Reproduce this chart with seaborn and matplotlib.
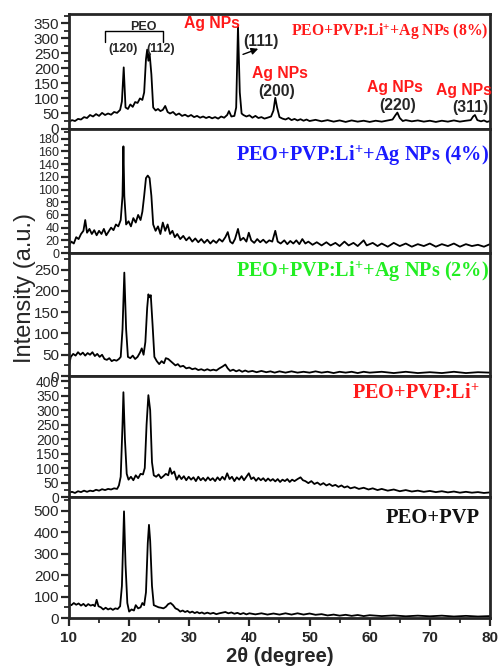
import numpy as np
import pandas as pd
import seaborn as sns
import matplotlib
matplotlib.use("Agg")
import matplotlib.pyplot as plt
from matplotlib.ticker import MultipleLocator

# ---------------- data ----------------
x_ag8 = [10, 10.5, 11, 11.5, 12, 12.5, 13, 13.5, 14, 14.5, 15, 15.5, 16, 16.5, 17, 17.5, 18, 18.5, 18.8, 19.1,
         19.4, 19.8, 20.2, 20.6, 21, 21.4, 21.8, 22.2, 22.5, 22.8, 23.0, 23.2, 23.4, 23.7, 24.0, 24.4, 24.8, 25.2,
         25.6, 26.0, 26.4, 26.8, 27.3, 27.8, 28.3, 28.8, 29.3, 29.8, 30.3, 30.8, 31.3, 31.8, 32.3, 32.8, 33.3, 33.8,
         34.3, 34.8, 35.3, 35.8, 36.3, 36.6, 37.0, 37.5, 37.8, 38.1, 38.4, 38.7, 39.0, 39.5, 40.0, 40.5, 41.0, 41.5,
         42.0, 42.5, 43.0, 43.6, 44.0, 44.3, 44.6, 45.0, 45.5, 46, 46.5, 47, 47.5, 48, 48.5, 49, 49.5, 50, 51, 52,
         53, 54, 55, 56, 57, 58, 59, 60, 61, 62, 63, 63.8, 64.3, 64.6, 65.0, 65.5, 66, 67, 68, 69, 70, 71, 72, 73,
         74, 75, 76, 76.8, 77.2, 77.5, 77.9, 78.5, 79, 79.5, 80]
y_ag8 = [22, 28, 25, 32, 30, 38, 35, 45, 40, 48, 42, 52, 45, 50, 46, 55, 52, 62, 90, 203,
         70, 65, 80, 72, 88, 85, 100, 95, 120, 230, 262, 225, 250, 180, 70, 60, 65, 58,
         62, 75, 55, 50, 55, 45, 50, 42, 46, 40, 45, 38, 42, 36, 40, 35, 39, 34,
         38, 33, 40, 36, 45, 58, 40, 42, 70, 340, 120, 50, 45, 40, 44, 36, 42, 35,
         38, 33, 36, 40, 60, 102, 70, 38, 33, 30, 35, 28, 32, 27, 31, 26, 30, 25, 29, 24,
         28, 23, 27, 22, 27, 23, 26, 22, 26, 23, 27, 30, 45, 53, 35, 25, 28, 24, 27, 23, 26, 22, 26, 23,
         27, 23, 26, 28, 40, 45, 28, 24, 27, 22, 25]

x_ag4 = [10, 10.4, 10.8, 11.2, 11.6, 12.0, 12.4, 12.7, 13.0, 13.4, 13.8, 14.2, 14.6, 15.0, 15.4, 15.8, 16.2, 16.6,
         17.0, 17.4, 17.8, 18.2, 18.6, 18.9, 19.05, 19.2, 19.5, 19.9, 20.3, 20.7, 21.1, 21.5, 21.9, 22.2, 22.5,
         22.8, 23.1, 23.4, 23.7, 24.0, 24.4, 24.8, 25.2, 25.6, 26.0, 26.4, 26.8, 27.2, 27.6, 28.0, 28.5, 29.0,
         29.5, 30.0, 30.5, 31.0, 31.5, 32.0, 32.5, 33.0, 33.5, 34.0, 34.5, 35.0, 35.5, 36.0, 36.4, 36.8, 37.2,
         37.6, 38.1, 38.5, 39.0, 39.5, 39.9, 40.3, 40.8, 41.3, 41.8, 42.3, 42.8, 43.3, 43.8, 44.3, 44.7, 45.2,
         45.8, 46.3, 46.8, 47.3, 47.8, 48.3, 48.8, 49.3, 49.8, 50.5, 51.2, 52, 52.8, 53.5, 54.3, 55, 55.8, 56.5,
         57.3, 58, 59, 59.5, 60.5, 61.3, 62, 63, 64, 65, 66, 67, 68, 69, 70, 71, 72, 73, 74, 75, 76, 77, 78, 79, 80]
y_ag4 = [12, 18, 15, 25, 22, 30, 35, 52, 32, 38, 30, 36, 28, 35, 30, 38, 28, 34,
         40, 36, 45, 42, 52, 90, 168, 90, 45, 50, 42, 55, 48, 60, 52, 65, 90,
         118, 122, 118, 90, 45, 35, 42, 30, 48, 35, 45, 30, 35, 25, 30, 22, 27,
         20, 25, 18, 23, 17, 22, 16, 21, 15, 20, 16, 22, 18, 25, 33, 18, 15,
         22, 38, 20, 24, 18, 32, 20, 16, 22, 17, 21, 16, 20, 18, 35, 18, 15,
         20, 14, 19, 15, 20, 14, 22, 15, 18, 13, 17, 12, 17, 12, 16, 11, 18, 12,
         16, 11, 20, 12, 16, 11, 15, 10, 16, 11, 15, 10, 14, 11, 15, 10, 14, 11, 15, 10, 14, 11, 13, 10, 14]

x_ag2 = [10, 10.3, 10.7, 11.1, 11.5, 11.9, 12.3, 12.7, 13.1, 13.5, 13.9, 14.3, 14.7, 15.1, 15.5, 15.9, 16.3, 16.7,
         17.1, 17.5, 17.9, 18.3, 18.6, 18.9, 19.2, 19.5, 19.8, 20.2, 20.6, 21.0, 21.4, 21.8, 22.1, 22.4, 22.7,
         23.0, 23.2, 23.4, 23.6, 23.9, 24.2, 24.6, 25.0, 25.4, 25.8, 26.1, 26.5, 26.9, 27.3, 27.7, 28.1, 28.5,
         29.0, 29.5, 30.0, 30.5, 31.0, 31.5, 32.0, 32.5, 33.0, 33.5, 34.0, 34.5, 35.0, 35.5, 36.0, 36.4, 36.8,
         37.3, 37.8, 38.3, 38.8, 39.3, 39.8, 40.5, 41.2, 42, 42.8, 43.5, 44.2, 45, 46, 47, 48, 49, 50, 51, 52,
         53, 54, 55, 56, 57, 58, 59, 60, 62, 64, 66, 68, 70, 72, 74, 76, 78, 80]
y_ag2 = [25, 45, 52, 48, 56, 50, 55, 48, 54, 50, 56, 47, 52, 45, 50, 40, 38, 42,
         35, 38, 36, 40, 45, 110, 243, 110, 45, 42, 48, 40, 45, 55, 65, 50, 80,
         160, 192, 185, 190, 120, 45, 35, 28, 35, 30, 42, 40, 35, 30, 25, 28, 22,
         24, 18, 20, 16, 18, 14, 16, 13, 16, 13, 15, 13, 18, 22, 27, 18, 12,
         15, 11, 14, 10, 13, 10, 12, 9, 12, 9, 11, 8, 11, 8, 11, 8, 10, 8, 11, 8,
         10, 7, 10, 8, 10, 7, 10, 8, 10, 7, 10, 7, 9, 7, 10, 7, 9, 8]

x_li = [10, 10.5, 11, 11.5, 12, 12.5, 13, 13.5, 14, 14.5, 15, 15.5, 16, 16.5, 17, 17.5, 18, 18.3, 18.6, 18.9,
        19.05, 19.3, 19.6, 19.9, 20.3, 20.7, 21.1, 21.5, 21.9, 22.3, 22.6, 22.9, 23.2, 23.5, 23.8, 24.1, 24.5,
        24.9, 25.3, 25.7, 26.1, 26.5, 26.8, 27.1, 27.5, 27.9, 28.3, 28.7, 29.1, 29.5, 29.9, 30.3, 30.7, 31.1,
        31.5, 31.9, 32.3, 32.7, 33.1, 33.5, 33.9, 34.3, 34.7, 35.1, 35.5, 35.9, 36.3, 36.7, 37.1, 37.5, 37.9,
        38.3, 38.7, 39.1, 39.5, 39.9, 40.3, 40.7, 41.1, 41.5, 41.9, 42.3, 42.7, 43.1, 43.5, 43.9, 44.3, 44.7,
        45.1, 45.5, 45.9, 46.3, 46.7, 47.1, 47.5, 48, 48.5, 48.9, 49.3, 49.8, 50.3, 50.8, 51.3, 51.8, 52.3,
        52.8, 53.3, 53.8, 54.3, 54.8, 55.3, 55.8, 56.3, 56.8, 57.5, 58.2, 59, 59.8, 60.5, 61.3, 62, 63, 64,
        65, 66, 67, 68, 69, 70, 71, 72, 73, 74, 75, 76, 77, 78, 79, 80]
y_li = [15, 18, 14, 20, 17, 22, 18, 22, 20, 25, 22, 27, 24, 28, 26, 30, 28, 40, 70, 250,
        362, 200, 80, 60, 70, 58, 75, 65, 80, 78, 100, 250, 352, 300, 120, 75, 70,
        78, 65, 72, 80, 75, 100, 80, 88, 60, 75, 62, 72, 58, 70, 60, 68, 55,
        70, 58, 66, 56, 68, 58, 65, 55, 68, 58, 70, 60, 82, 62, 70, 55, 68,
        60, 72, 58, 70, 82, 62, 68, 56, 66, 58, 65, 55, 64, 56, 62, 54, 62,
        52, 60, 55, 62, 52, 60, 55, 62, 68, 58, 55, 48, 55, 45, 50, 42, 48,
        40, 45, 38, 42, 35, 40, 33, 37, 30, 34, 28, 32, 26, 30, 24, 28, 22, 26,
        20, 24, 19, 22, 18, 21, 17, 20, 16, 19, 15, 18, 15, 17, 14, 16]

x_pp = [10, 10.4, 10.8, 11.2, 11.6, 12.0, 12.4, 12.8, 13.2, 13.6, 14.0, 14.3, 14.6, 14.9, 15.3, 15.7, 16.1, 16.5,
        16.9, 17.3, 17.7, 18.1, 18.5, 18.8, 19.15, 19.4, 19.7, 20.0, 20.4, 20.8, 21.1, 21.5, 21.9, 22.2, 22.5,
        22.8, 23.1, 23.3, 23.5, 23.8, 24.1, 24.5, 24.9, 25.3, 25.7, 26.1, 26.5, 26.9, 27.3, 27.7, 28.1, 28.5,
        28.9, 29.3, 29.7, 30.1, 30.5, 30.9, 31.3, 31.7, 32.1, 32.5, 33.0, 33.5, 34.0, 34.5, 35.0, 35.5, 36.0,
        36.5, 37, 37.5, 38, 38.5, 39, 39.5, 40, 41, 42, 43, 44, 45, 46, 47, 48, 49, 50, 51, 52, 53, 54, 55, 56,
        57, 58, 59, 60, 62, 64, 66, 68, 70, 72, 74, 76, 78, 80]
y_pp = [65, 60, 70, 62, 68, 58, 66, 55, 65, 58, 62, 55, 85, 55, 50, 40, 48, 40,
        45, 38, 45, 42, 55, 150, 498, 250, 70, 30, 40, 35, 60, 45, 50, 70, 60,
        120, 350, 435, 360, 150, 60, 55, 50, 48, 45, 52, 65, 70, 60, 45, 40, 30,
        35, 28, 33, 25, 30, 23, 28, 22, 26, 20, 25, 20, 24, 18, 22, 25, 28,
        22, 26, 20, 24, 18, 23, 17, 22, 17, 22, 16, 21, 16, 22, 16, 22, 16, 21, 15, 18, 12, 16, 11, 15,
        10, 14, 9, 13, 9, 12, 8, 11, 8, 11, 7, 10, 7, 9]

xs = [x_ag8, x_ag4, x_ag2, x_li, x_pp]
ys = [y_ag8, y_ag4, y_ag2, y_li, y_pp]
labels = [r"PEO+PVP:Li$^{\mathbf{+}}$+Ag NPs (8%)", r"PEO+PVP:Li$^{\mathbf{+}}$+Ag NPs (4%)",
          r"PEO+PVP:Li$^{\mathbf{+}}$+Ag NPs (2%)", r"PEO+PVP:Li$^{\mathbf{+}}$", "PEO+PVP"]
label_colors = ["#ff1a1a", "#1a1aff", "#22ee22", "#ff1a1a", "#111111"]
ylims = [380, 196, 289, 418, 565]
major_steps = [50, 20, 50, 50, 100]
minor_steps = [25, 10, 25, 25, 50]
ytick_tops = [350, 180, 250, 400, 500]
x_ticks = [10, 20, 30, 40, 50, 60, 70, 80]

# ---------------- style ----------------
sns.set_style("ticks")
plt.rcParams["font.family"] = ["Liberation Sans", "DejaVu Sans"]
plt.rcParams["mathtext.fontset"] = "custom"
plt.rcParams["mathtext.rm"] = "Liberation Serif:bold"
plt.rcParams["mathtext.bf"] = "Liberation Serif:bold"
plt.rcParams["mathtext.it"] = "Liberation Serif:bold"

fig = plt.figure(figsize=(5.01, 6.70), dpi=100)
gs = fig.add_gridspec(5, 1, left=0.1377, right=0.978, top=0.979, bottom=0.0776, hspace=0,
                      height_ratios=[114.5, 124.5, 123, 121, 121])
axes = [fig.add_subplot(gs[i]) for i in range(5)]

ytick_sizes = [11, 9, 11, 10, 11]
label_sizes = [11.3, 14.6, 14.6, 14.6, 14.8]
label_pos = [(0.997, 0.85), (0.997, 0.78), (0.997, 0.85), (0.976, 0.85), (0.976, 0.83)]

for i, ax in enumerate(axes):
    df = pd.DataFrame({"two_theta": xs[i], "intensity": ys[i]})
    sns.lineplot(data=df, x="two_theta", y="intensity", ax=ax, color="black", lw=1.3,
                 estimator=None, sort=False)
    ax.set_xlim(10, 80)
    ax.set_ylim(0, ylims[i])
    ax.set_xlabel("")
    ax.set_ylabel("")
    ax.set_yticks(np.arange(0, ytick_tops[i] + 1, major_steps[i]))
    ax.yaxis.set_minor_locator(MultipleLocator(minor_steps[i]))
    for s in ax.spines.values():
        s.set_linewidth(2.0)
        s.set_visible(True)
    ax.tick_params(axis="y", which="major", direction="out", length=6, width=1.6,
                   labelsize=ytick_sizes[i], pad=1)
    ax.tick_params(axis="y", which="minor", direction="out", length=3.5, width=1.3)
    if i < 4:
        ax.tick_params(axis="x", which="both", length=0, labelbottom=False)
    else:
        ax.set_xticks(x_ticks)
        ax.xaxis.set_minor_locator(MultipleLocator(5))
        ax.tick_params(axis="x", which="major", direction="out", length=6, width=1.6,
                       labelsize=11, pad=3)
        ax.tick_params(axis="x", which="minor", direction="out", length=3.5, width=1.3)
        for t in ax.get_xticklabels():
            t.set_fontweight("bold")
    ax.text(label_pos[i][0], label_pos[i][1], labels[i], transform=ax.transAxes,
            ha="right", va="center", color=label_colors[i], fontsize=label_sizes[i],
            family="Liberation Serif", fontweight="bold")

# ---------------- annotations in top panel ----------------
ax = axes[0]
ax.plot([16.0, 16.0, 25.6, 25.6], [287, 324, 324, 287], color="black", lw=1.0)
ax.text(22.3, 338, "PEO", ha="center", va="center", fontsize=9, fontweight="bold")
ax.text(19.0, 263, "(120)", ha="center", va="center", fontsize=9, fontweight="bold")
ax.text(25.3, 263, "(112)", ha="center", va="center", fontsize=9, fontweight="bold")
red = "#ff1a1a"
ax.text(33.7, 350, "Ag NPs", ha="center", va="center", fontsize=11.3, fontweight="bold", color=red)
ax.text(41.9, 290, "(111)", ha="center", va="center", fontsize=11.3, fontweight="bold")
ax.annotate("", xy=(41.9, 268), xytext=(38.5, 243),
            arrowprops=dict(arrowstyle="-|>", color="black", lw=1.0, mutation_scale=10))
ax.text(45.0, 183, "Ag NPs", ha="center", va="center", fontsize=11.3, fontweight="bold", color=red)
ax.text(44.6, 123, "(200)", ha="center", va="center", fontsize=11.3, fontweight="bold")
ax.text(64.2, 137, "Ag NPs", ha="center", va="center", fontsize=11.3, fontweight="bold", color=red)
ax.text(64.7, 77, "(220)", ha="center", va="center", fontsize=11.3, fontweight="bold")
ax.text(75.6, 127, "Ag NPs", ha="center", va="center", fontsize=11.3, fontweight="bold", color=red)
ax.text(76.7, 70, "(311)", ha="center", va="center", fontsize=11.3, fontweight="bold")

fig.text(0.05, 0.57, "Intensity (a.u.)", rotation=90, ha="center", va="center", fontsize=17)
axes[4].set_xlabel("2θ (degree)", fontsize=14.5, fontweight="bold", labelpad=2)

fig.savefig("out.png", dpi=100)
